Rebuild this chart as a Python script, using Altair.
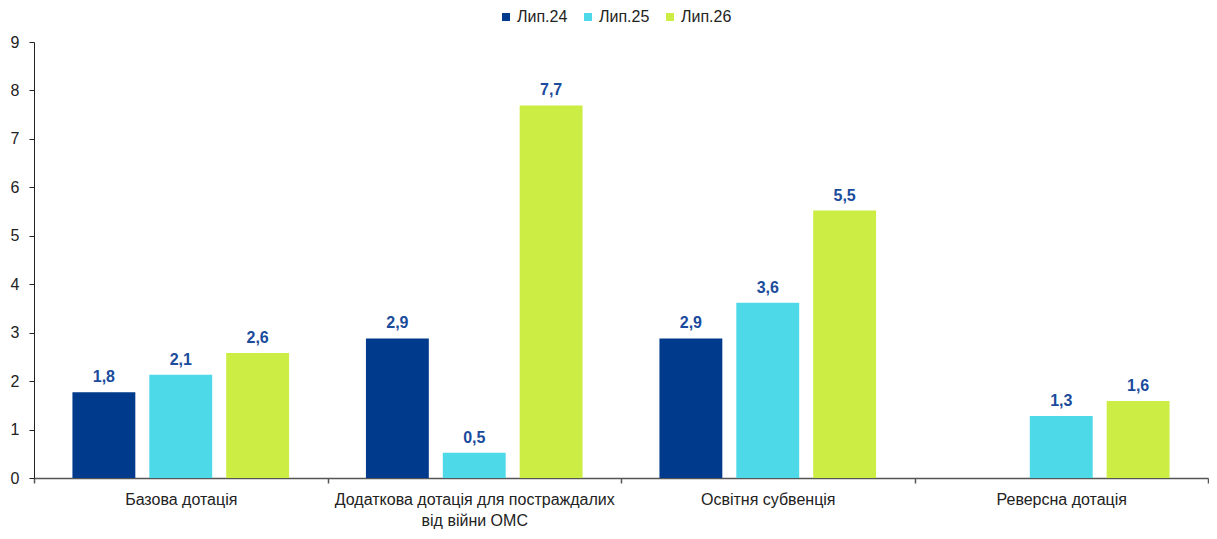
import altair as alt
import pandas as pd

categories = ["Базова дотація", "Додаткова дотація для постраждалих від війни ОМС",
              "Освітня субвенція", "Реверсна дотація"]
series = ["Лип.24", "Лип.25", "Лип.26"]
values_24 = [1.77, 2.88, 2.88, None]
values_25 = [2.13, 0.52, 3.62, 1.28]
values_26 = [2.58, 7.69, 5.52, 1.59]
colors = ["#003A8C", "#4DD9E8", "#CCEE44"]

rows = []
for s, vals in zip(series, [values_24, values_25, values_26]):
    for c, v in zip(categories, vals):
        if v is not None:
            rows.append({"cat": c, "series": s, "value": v,
                         "label": f"{v:.1f}".replace(".", ",")})
df = pd.DataFrame(rows)

FONT = "Liberation Sans"

label_expr = ("datum.value == 'Додаткова дотація для постраждалих від війни ОМС' ? "
              "['Додаткова дотація для постраждалих', 'від війни ОМС'] : datum.value")

x = alt.X("cat:N", sort=categories, title=None,
          scale=alt.Scale(paddingInner=0, paddingOuter=0),
          axis=alt.Axis(labelAngle=0, labelExpr=label_expr, tickBand="extent",
                        labelFontSize=16, labelFont=FONT, labelColor="#222",
                        labelLineHeight=21, labelPadding=8, tickSize=5,
                        domainColor="#555", tickColor="#555", domainWidth=1.5,
                        tickWidth=1.5, labelLimit=400))
xo = alt.XOffset("series:N", sort=series,
                 scale=alt.Scale(paddingInner=0.182, paddingOuter=0.5))
y = alt.Y("value:Q", title=None,
          scale=alt.Scale(domain=[0, 9], nice=False),
          axis=alt.Axis(values=list(range(10)), grid=False, labelFontSize=16,
                        labelFont=FONT, labelColor="#222", domainColor="#222",
                        tickColor="#222", tickSize=5, labelPadding=10))

bars = alt.Chart(df).mark_bar().encode(
    x=x, xOffset=xo, y=y,
    color=alt.Color("series:N", sort=series,
                    scale=alt.Scale(domain=series, range=colors),
                    legend=alt.Legend(title=None, orient="none", direction="horizontal",
                                      legendX=464, legendY=-33,
                                      symbolType="square", symbolSize=64,
                                      labelFontSize=16, labelFont=FONT,
                                      labelColor="#222", columnPadding=12,
                                      labelOffset=3, symbolStrokeWidth=0))
)

text = alt.Chart(df).mark_text(dy=-15, fontWeight="bold", fontSize=16, font=FONT,
                               color="#1A4B9C").encode(
    x=alt.X("cat:N", sort=categories), xOffset=xo, y="value:Q", text="label:N")

chart = alt.layer(bars, text).properties(
    width=1174, height=436,
    autosize=alt.AutoSizeParams(type="none"),
    padding={"left": 26, "top": 34, "right": 1, "bottom": 53}
).configure_view(stroke=None)

chart.save("out.html", embed_options={"renderer": "svg", "actions": False})
